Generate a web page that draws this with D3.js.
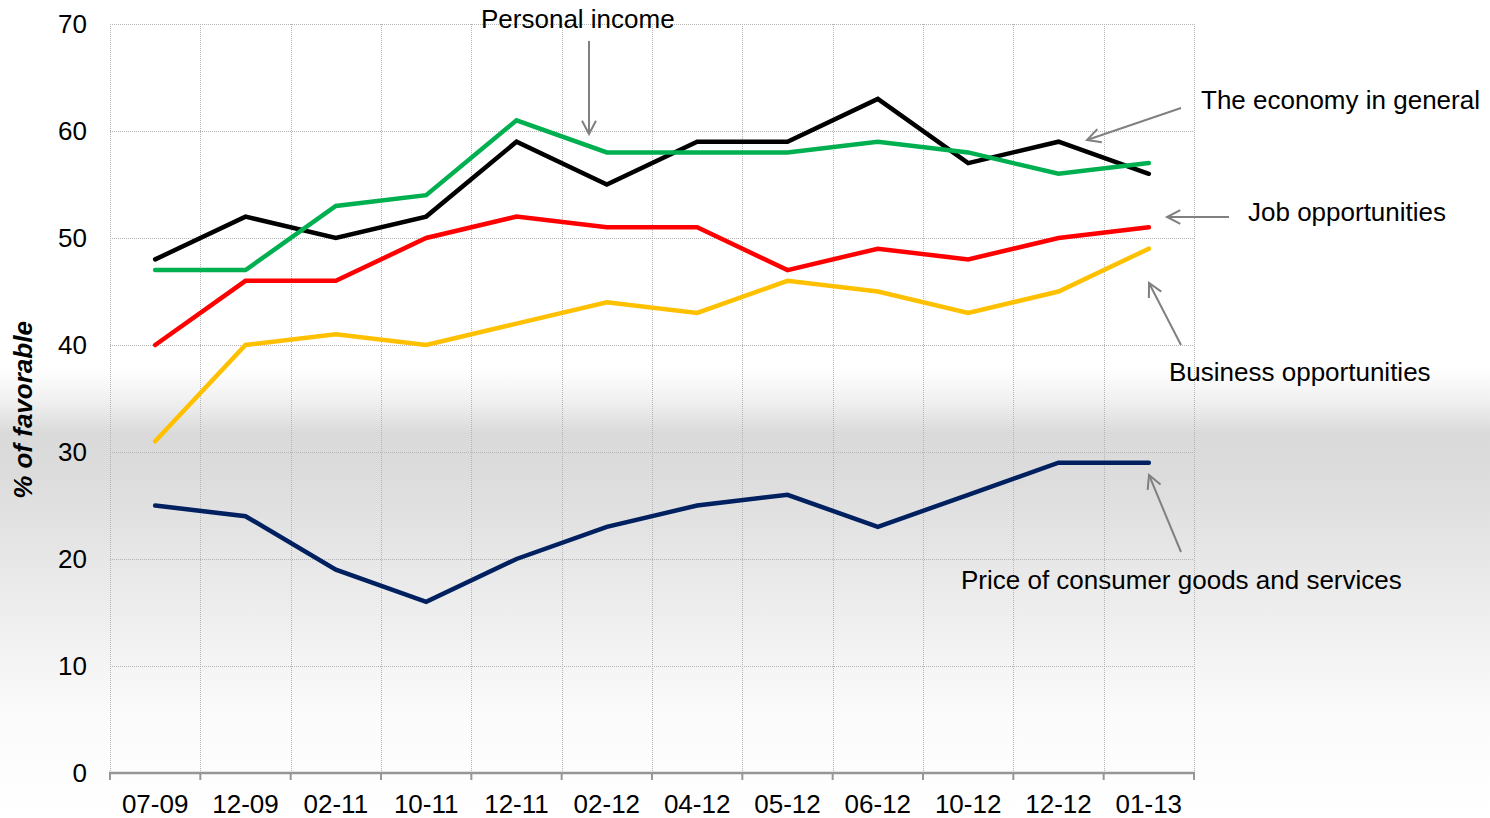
<!DOCTYPE html>
<html>
<head>
<meta charset="utf-8">
<script src="https://cdn.jsdelivr.net/npm/d3@7"></script>
<style>
html,body{margin:0;padding:0;}
body{width:1490px;height:818px;overflow:hidden;}
svg text{font-family:"Liberation Sans",Arial,sans-serif;fill:#000;}
</style>
</head>
<body>
<svg id="chart" width="1490" height="818"></svg>
<script>
const categories = ["07-09","12-09","02-11","10-11","12-11","02-12","04-12","05-12","06-12","10-12","12-12","01-13"];
const economy   = [48,52,50,52,59,55,59,59,63,57,59,56];
const personal  = [47,47,53,54,61,58,58,58,59,58,56,57];
const jobs      = [40,46,46,50,52,51,51,47,49,48,50,51];
const business  = [31,40,41,40,42,44,43,46,45,43,45,49];
const prices    = [25,24,19,16,20,23,25,26,23,26,29,29];
const yTicks    = [0,10,20,30,40,50,60,70];
const seriesNames = ["The economy in general","Personal income","Job opportunities","Business opportunities","Price of consumer goods and services"];
const seriesColors = ["#000000","#00B050","#FF0000","#FFC000","#002060"];
const yLabel = "% of favorable";

(function(){
const series = [economy, personal, jobs, business, prices].map((v,i)=>({name:seriesNames[i], color:seriesColors[i], values:v}));

const svg = d3.select("#chart");
const W = 1490, H = 818;
const pL = 110, pR = 1194, pT = 24, pB = 773;
const FS = 26;

// background gradient
const defs = svg.append("defs");
const grad = defs.append("linearGradient").attr("id","bg").attr("x1",0).attr("y1",0).attr("x2",0).attr("y2",1);
[[0,"#ffffff"],[0.45,"#ffffff"],[0.49,"#f0f0f0"],[0.53,"#dadada"],[0.58,"#dcdcdc"],[0.75,"#eeeeee"],[0.88,"#fbfbfb"],[1,"#ffffff"]]
  .forEach(([o,c])=>grad.append("stop").attr("offset",o).attr("stop-color",c));
svg.append("rect").attr("width",W).attr("height",H).attr("fill","url(#bg)");

const x = d3.scaleBand().domain(categories).range([pL,pR]).padding(0);
const y = d3.scaleLinear().domain([0,70]).range([pB,pT]);

// gridlines
const grid = svg.append("g").attr("stroke","#b4b4b4").attr("stroke-width",1).attr("stroke-dasharray","1,1").attr("shape-rendering","crispEdges");
yTicks.filter(t=>t>0).forEach(t=>{
  grid.append("line").attr("x1",pL).attr("x2",pR).attr("y1",Math.round(y(t))+0.5).attr("y2",Math.round(y(t))+0.5);
});
const bounds = categories.map(c=>x(c)).concat([pR]);
bounds.forEach(b=>{
  grid.append("line").attr("x1",Math.round(b)+0.5).attr("x2",Math.round(b)+0.5).attr("y1",pT).attr("y2",pB);
});

// x axis
const xAxisG = svg.append("g").attr("transform",`translate(0,${pB})`);
xAxisG.append("line").attr("x1",pL-1).attr("x2",pR+1).attr("y1",0).attr("y2",0).attr("stroke","#969696").attr("stroke-width",2.5);
bounds.forEach(b=>{
  xAxisG.append("line").attr("x1",b).attr("x2",b).attr("y1",0).attr("y2",7).attr("stroke","#969696").attr("stroke-width",2);
});
xAxisG.selectAll("text.xt").data(categories).enter().append("text")
  .attr("class","xt").attr("x",d=>x(d)+x.bandwidth()/2).attr("y",40)
  .attr("text-anchor","middle").attr("font-size",FS).text(d=>d);

// y axis labels
svg.append("g").selectAll("text").data(yTicks).enter().append("text")
  .attr("x",87).attr("y",d=>y(d)+9).attr("text-anchor","end").attr("font-size",FS).text(d=>d);

svg.append("text").attr("transform",`translate(32,410) rotate(-90)`)
  .attr("text-anchor","middle").attr("font-size",FS).attr("font-weight","bold").attr("font-style","italic").text(yLabel);

// lines
const line = d3.line().x((d,i)=>x(categories[i])+x.bandwidth()/2).y(d=>y(d));
svg.append("g").selectAll("path").data(series).enter().append("path")
  .attr("d",d=>line(d.values)).attr("fill","none").attr("stroke",d=>d.color)
  .attr("stroke-width",4.5).attr("stroke-linecap","round").attr("stroke-linejoin","miter");

// annotations
const annotations = [
  {text:seriesNames[0], tx:1201, ty:109, from:[1181,108], to:[1087,140]},
  {text:seriesNames[1], tx:481,  ty:28,  from:[589,41],   to:[589,134]},
  {text:seriesNames[2], tx:1248, ty:221, from:[1229,217], to:[1167,217]},
  {text:seriesNames[3], tx:1169, ty:381, from:[1181,345], to:[1149,283]},
  {text:seriesNames[4], tx:961,  ty:589, from:[1181,552], to:[1149,475]}
];
const ag = svg.append("g");
annotations.forEach(a=>{
  ag.append("text").attr("x",a.tx).attr("y",a.ty).attr("font-size",FS).text(a.text);
  const [x1,y1]=a.from,[x2,y2]=a.to;
  const ang = Math.atan2(y2-y1,x2-x1);
  const L=15, sp=Math.PI/6.5;
  const p1=[x2-L*Math.cos(ang-sp), y2-L*Math.sin(ang-sp)];
  const p2=[x2-L*Math.cos(ang+sp), y2-L*Math.sin(ang+sp)];
  ag.append("line").attr("x1",x1).attr("y1",y1).attr("x2",x2).attr("y2",y2).attr("stroke","#808080").attr("stroke-width",2);
  ag.append("path").attr("d",`M${p1[0]},${p1[1]}L${x2},${y2}L${p2[0]},${p2[1]}`)
    .attr("fill","none").attr("stroke","#808080").attr("stroke-width",2);
});
})();
</script>
</body>
</html>
